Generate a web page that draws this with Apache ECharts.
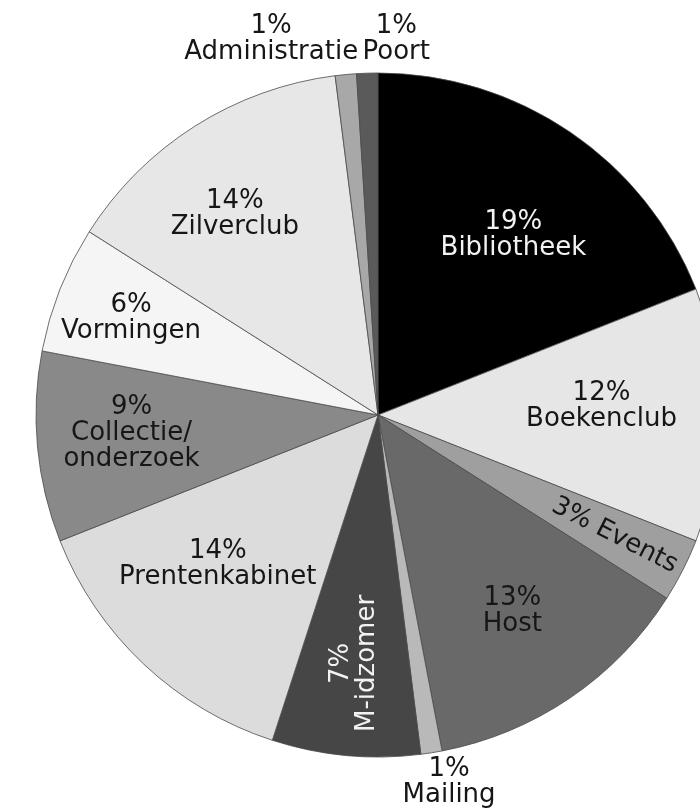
<!DOCTYPE html>
<html lang="nl">
<head>
    <meta charset="UTF-8">
    <title>Verdeling</title>
    <style>
        html, body { margin: 0; padding: 0; background: #fff; }
        #main { width: 700px; height: 809px; }
    </style>
    <script src="https://cdn.jsdelivr.net/npm/echarts@6/dist/echarts.min.js"></script>
</head>
<body>
<div id="main"></div>
<script type="text/javascript">
    // data, clockwise from 12 o'clock
    var categories = ['Bibliotheek', 'Boekenclub', 'Events', 'Host', 'Mailing', 'M-idzomer',
        'Prentenkabinet', 'Collectie/onderzoek', 'Vormingen', 'Zilverclub', 'Administratie', 'Poort'];
    var shares = [19, 12, 3, 13, 1, 7, 14, 9, 6, 14, 1, 1];

    // greys per slice
    var fills = ['#000000', '#e6e6e6', '#9f9f9f', '#696969', '#b9b9b9', '#464646',
        '#dcdcdc', '#898989', '#f5f5f5', '#e7e7e7', '#a8a8a8', '#5a5a5a'];

    var R = 342;
    var outsideNames = ['Mailing', 'Administratie', 'Poort'];
    var whiteText = ['Bibliotheek', 'M-idzomer'];
    // small nudges of the inside labels (in the label's own, possibly rotated, frame)
    var nudge = {
        'Bibliotheek': [3, 15], 'Boekenclub': [-12, -9], 'Events': [30, 0],
        'Host': [2, 1], 'M-idzomer': [-14, -2], 'Prentenkabinet': [1, -22],
        'Collectie/onderzoek': [-12, -4], 'Vormingen': [-28, -10], 'Zilverclub': [-17, -2]
    };

    var myChart = echarts.init(document.getElementById('main'));

    var pieData = categories.map(function (name, i) {
        return { name: name, value: shares[i], itemStyle: { color: fills[i] } };
    });

    var labelData = categories.map(function (name, i) {
        var item = { name: name, value: shares[i] };
        if (outsideNames.indexOf(name) >= 0) {
            item.label = { position: 'outside', color: '#161616' };
            item.labelLine = { show: false };
        } else {
            item.label = {
                position: 'inside',
                color: whiteText.indexOf(name) >= 0 ? '#f2f2f2' : '#161616',
                offset: nudge[name] || [0, 0]
            };
            if (name === 'Events') item.label.rotate = -27;
            if (name === 'M-idzomer') item.label.rotate = 90;
        }
        return item;
    });

    var option = {
        animation: false,
        series: [{
            type: 'pie',
            center: [378, 415],
            radius: [0, R],
            startAngle: 90,
            clockwise: true,
            silent: true,
            label: { show: false },
            labelLine: { show: false },
            itemStyle: { borderColor: '#4a4a4a', borderWidth: 0.8 },
            data: pieData
        }, {
            // transparent ring that only carries the labels
            type: 'pie',
            center: [378, 415],
            radius: [123, R],
            startAngle: 90,
            clockwise: true,
            silent: true,
            avoidLabelOverlap: false,
            itemStyle: { color: 'rgba(0,0,0,0)', borderWidth: 0 },
            label: {
                show: true,
                fontFamily: 'DejaVu Sans',
                fontSize: 26,
                lineHeight: 26,
                align: 'center',
                formatter: function (p) {
                    if (p.name === 'Events') return p.value + '% ' + p.name;
                    return p.value + '%\n' + p.name.replace('/', '/\n');
                }
            },
            labelLayout: function (params) {
                var name = categories[params.dataIndex];
                var rc = params.rect, lr = params.labelRect;
                if (name === 'Administratie') {
                    return { x: rc.x + 23 - lr.width / 2, y: rc.y - 8, align: 'center', verticalAlign: 'bottom' };
                }
                if (name === 'Poort') {
                    return { x: rc.x + 6 + lr.width / 2, y: rc.y - 8, align: 'center', verticalAlign: 'bottom' };
                }
                if (name === 'Mailing') {
                    return { x: rc.x + rc.width + 7, y: rc.y + rc.height + 2, align: 'center', verticalAlign: 'top' };
                }
                return {};
            },
            data: labelData
        }]
    };

    myChart.setOption(option);
</script>
</body>
</html>
